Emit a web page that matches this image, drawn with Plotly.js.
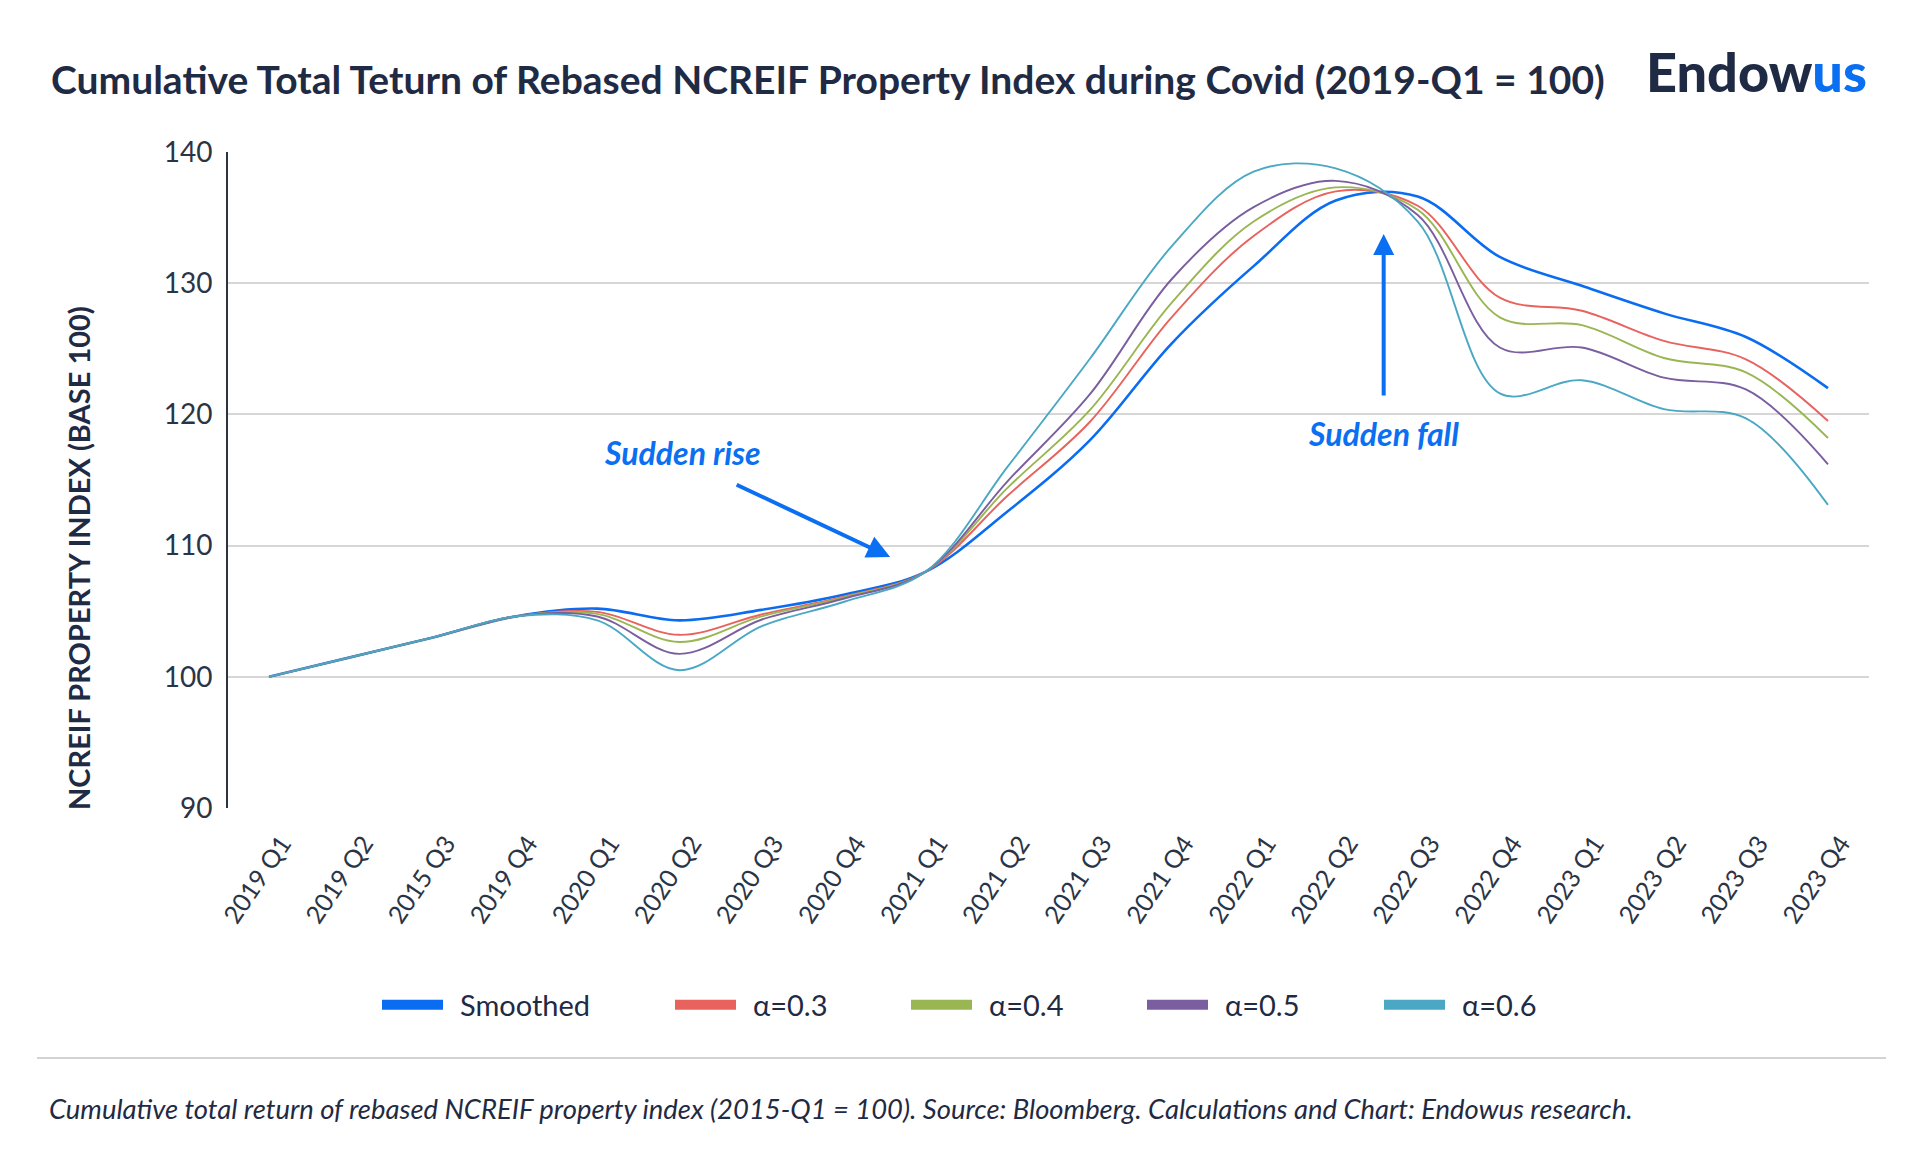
<!DOCTYPE html>
<html>
<head>
<meta charset="utf-8">
<script src="https://cdn.plot.ly/plotly-3.0.1.min.js"></script>
<style>
  html, body { margin: 0; padding: 0; background: #ffffff; }
  #chart { width: 1920px; height: 1168px; }
</style>
</head>
<body>
<div id="chart"></div>
<script>
// ---- data ----
const quarters = ['2019 Q1','2019 Q2','2015 Q3','2019 Q4','2020 Q1','2020 Q2','2020 Q3','2020 Q4',
                  '2021 Q1','2021 Q2','2021 Q3','2021 Q4','2022 Q1','2022 Q2','2022 Q3','2022 Q4',
                  '2023 Q1','2023 Q2','2023 Q3','2023 Q4'];
const smoothed = [100, 101.5, 103.0, 104.6, 105.2, 104.3, 105.1, 106.25, 108.0, 112.6, 118.0, 125.4, 131.3, 136.3, 136.6, 132.0, 129.8, 127.7, 125.9, 122.0];
const alpha03  = [100, 101.5, 103.0, 104.6, 104.95, 103.2, 104.75, 106.1, 108.0, 113.8, 119.4, 127.4, 133.6, 137.0, 135.9, 128.9, 127.9, 125.6, 124.2, 119.5];
const alpha04  = [100, 101.5, 103.0, 104.6, 104.8, 102.65, 104.6, 106.05, 108.0, 114.4, 120.3, 128.5, 134.7, 137.3, 135.6, 127.4, 126.8, 124.3, 123.2, 118.2];
const alpha05  = [100, 101.5, 103.0, 104.6, 104.6, 101.75, 104.35, 105.95, 108.0, 114.9, 121.5, 130.3, 135.8, 137.8, 135.2, 125.1, 125.1, 122.8, 121.9, 116.2];
const alpha06  = [100, 101.5, 103.0, 104.6, 104.3, 100.5, 103.85, 105.7, 108.0, 116.0, 124.2, 132.8, 138.5, 138.75, 134.7, 121.6, 122.6, 120.4, 119.7, 113.1];
const seriesNames = ['Smoothed', 'α=0.3', 'α=0.4', 'α=0.5', 'α=0.6'];
const yTicks = [90, 100, 110, 120, 130, 140];

// ---- styles ----
const colors = ['#0A6CF0', '#E8625E', '#9AB653', '#7B5E9F', '#4AA8C4'];
const widths = [2.6, 1.9, 1.9, 1.9, 1.9];
const navy = '#1F2A44';
const tickCol = '#2B3445';
const blue = '#0B6FF2';
const FONT = 'Lato, "Open Sans", sans-serif';

const allSeries = [smoothed, alpha03, alpha04, alpha05, alpha06];
const legendIds = ['legend', 'legend2', 'legend3', 'legend4', 'legend5'];
const legendX = [377, 670, 906, 1142, 1379];

const traces = [];
// plotted lines: smoothed first, alpha=0.6 last (on top), as in the reference
for (let k = 0; k < allSeries.length; k++) {
  traces.push({
    type: 'scatter', mode: 'lines', name: seriesNames[k],
    x: quarters, y: allSeries[k],
    line: { color: colors[k], width: widths[k], shape: 'spline', smoothing: 1 },
    showlegend: false, hoverinfo: 'x+y+name'
  });
}
// legend proxies (thick swatches)
for (let k = 0; k < allSeries.length; k++) {
  traces.push({
    type: 'scatter', mode: 'lines', name: seriesNames[k],
    x: [null], y: [null],
    line: { color: colors[k], width: 12 },
    showlegend: true, legend: legendIds[k]
  });
}

const layout = {
  width: 1920, height: 1168,
  paper_bgcolor: '#ffffff', plot_bgcolor: '#ffffff',
  margin: { l: 228, r: 51, t: 152, b: 360 },
  font: { family: FONT, color: navy },
  title: {
    text: 'Cumulative Total Teturn of Rebased NCREIF Property Index during Covid (2019-Q1 = 100)',
    xref: 'container', x: 51 / 1920, xanchor: 'left',
    yref: 'container', y: 1 - 80 / 1168, yanchor: 'middle',
    font: { family: FONT, size: 39, weight: 700, color: navy }
  },
  xaxis: {
    type: 'category', range: [-0.5, 19.5],
    showgrid: false, zeroline: false, showline: false,
    ticks: '', tickangle: -56,
    ticklabelstandoff: 15, ticklabelshift: 13,
    tickfont: { family: FONT, size: 25, color: tickCol }
  },
  yaxis: {
    range: [90, 140], tickvals: yTicks, ticktext: yTicks.map(String),
    showgrid: true, gridcolor: '#D6D6D6', gridwidth: 2,
    zeroline: false, showline: true, linecolor: tickCol, linewidth: 2,
    ticks: '', ticklabelstandoff: 8,
    tickfont: { family: FONT, size: 28, color: tickCol }
  },
  showlegend: true,
  shapes: [
    { type: 'line', xref: 'paper', yref: 'paper',
      x0: (37 - 228) / 1641, x1: (1886 - 228) / 1641,
      y0: (808 - 1058) / 656, y1: (808 - 1058) / 656,
      line: { color: '#D3D3D3', width: 2 } }
  ],
  annotations: [
    { xref: 'paper', yref: 'paper', x: 1, xanchor: 'right', y: (808 - 72) / 656, yanchor: 'middle',
      text: 'Endow<span style="color:' + blue + '">us</span>', showarrow: false,
      font: { family: FONT, size: 54, weight: 900, color: navy } },
    // y-axis title (placed as in the reference, below the plot centre)
    { xref: 'paper', yref: 'paper', x: (78 - 228) / 1641, y: (808 - 558) / 656,
      xanchor: 'center', yanchor: 'middle', textangle: -90, showarrow: false,
      text: 'NCREIF PROPERTY INDEX (BASE 100)',
      font: { family: FONT, size: 29, weight: 700, color: navy } },
    { xref: 'x', yref: 'y', x: 5.04, y: 117.13, text: '<b><i>Sudden rise</i></b>', showarrow: false,
      font: { family: FONT, size: 32, color: blue } },
    { xref: 'x', yref: 'y', x: 7.57, y: 109.13, text: '', showarrow: true,
      ax: -155, ay: -73, arrowhead: 2, arrowsize: 1.15, arrowwidth: 4, arrowcolor: blue },
    { xref: 'x', yref: 'y', x: 13.585, y: 118.58, text: '<b><i>Sudden fall</i></b>', showarrow: false,
      font: { family: FONT, size: 32, color: blue } },
    { xref: 'x', yref: 'y', x: 13.585, y: 133.75, text: '', showarrow: true,
      ax: 0, ay: 163, arrowhead: 2, arrowsize: 1.05, arrowwidth: 4, arrowcolor: blue },
    { xref: 'paper', yref: 'paper', x: (47 - 228) / 1641, xanchor: 'left', y: (808 - 1108) / 656, yanchor: 'middle',
      text: '<i>Cumulative total return of rebased NCREIF property index (2015-Q1 = 100). Source: Bloomberg. Calculations and Chart: Endowus research.</i>',
      showarrow: false, font: { family: FONT, size: 27.4, color: navy } }
  ]
};

legendIds.forEach((id, k) => {
  layout[id] = {
    xref: 'container', x: legendX[k] / 1920, xanchor: 'left',
    yref: 'container', y: 1 - 1005 / 1168, yanchor: 'middle',
    orientation: 'h', bgcolor: 'rgba(0,0,0,0)', borderwidth: 0,
    font: { family: FONT, size: 29, color: navy },
    itemwidth: 73
  };
});

Plotly.newPlot('chart', traces, layout, { displayModeBar: false, staticPlot: true }).then(gd => {
  // lengthen the legend swatches to match the reference's wide bars
  gd.querySelectorAll('.legendlines path').forEach(p => {
    p.setAttribute('d', 'M5,0h61');
    p.style.strokeLinecap = 'butt';
  });
});
</script>
</body>
</html>
